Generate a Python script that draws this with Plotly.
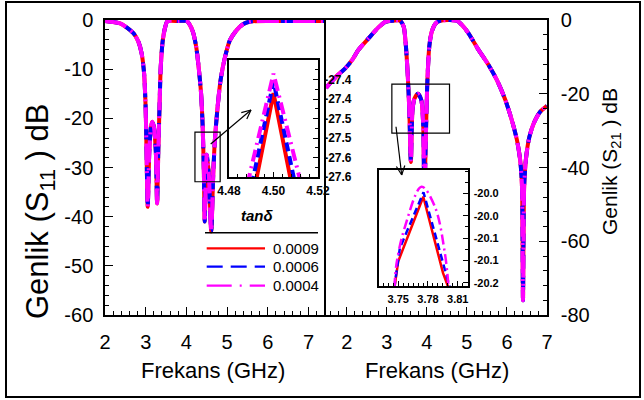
import plotly.graph_objects as go

# ---------------- data ----------------
tan_labels = ["0.0009", "0.0006", "0.0004"]
colors = ["#FF0000", "#0000FF", "#FF00FF"]

# S11 (left panel)
s11_f = [2.0, 2.37, 2.53, 2.70, 2.82, 2.90, 2.96, 3.00, 3.02, 3.05, 3.09, 3.13, 3.16, 3.20, 3.25,
         3.28, 3.31, 3.34, 3.37, 3.42, 3.48, 3.53, 3.8, 4.01, 4.07, 4.16, 4.24, 4.30, 4.36, 4.40,
         4.43, 4.45, 4.48, 4.50, 4.55, 4.61, 4.66, 4.70, 4.76, 4.84, 4.95, 5.07, 5.24, 5.40, 5.57,
         6.2, 7.0, 7.43]
s11_db = [-0.2, -0.7, -1.5, -2.7, -4.4, -6.8, -10.8, -18.3, -26.4, -38.0, -26.4, -21.7, -20.7, -21.7, -27.0,
          -37.3, -26.4, -17.6, -9.5, -4.1, -1.4, -0.3, -0.2, -0.2, -0.8, -2.4, -5.4, -9.5, -14.9, -21.7,
          -31.2, -41.0, -31.2, -27.4, -31.2, -43.0, -31.2, -24.4, -18.3, -12.2, -7.5, -4.1, -2.0, -0.8, -0.3,
          -0.2, -0.2, -0.2]

# S21 (right panel)
s21_f = [1.48, 1.71, 1.96, 2.13, 2.29, 2.54, 2.79, 2.96, 3.12, 3.33, 3.42, 3.47, 3.52, 3.56, 3.60,
         3.64, 3.69, 3.775, 3.86, 3.91, 3.935, 3.98, 4.01, 4.06, 4.12, 4.22, 4.33, 4.75, 4.88, 5.04,
         5.29, 5.54, 5.75, 5.96, 6.12, 6.25, 6.33, 6.375, 6.40, 6.43, 6.48, 6.56, 6.67, 6.83, 7.0]
s21_db = [-18.4, -15.6, -13.1, -10.9, -8.1, -5.0, -2.0, -0.5, -0.2, -0.2, -1.8, -6.3, -14.5, -24.4, -38.5,
          -24.4, -21.3, -20.0, -21.7, -29.0, -48.0, -29.0, -17.2, -7.2, -3.2, -0.9, -0.2, -0.2, -1.4, -3.6,
          -8.1, -12.2, -16.3, -21.7, -27.1, -32.6, -38.0, -45.0, -76.0, -45.0, -37.1, -31.7, -28.0, -24.9, -23.3]

# left inset (zoom of S11 near 4.50 GHz)
in1_f = [[4.4918, 4.500, 4.5082], [4.4902, 4.500, 4.5098], [4.4882, 4.500, 4.5125]]
in1_db = [[-27.62, -27.385, -27.62], [-27.62, -27.355, -27.62], [-27.62, -27.335, -27.62]]
in1_xticks = [4.48, 4.50, 4.52]
in1_yticks = [-27.35, -27.40, -27.45, -27.50, -27.55, -27.60]
in1_ytext = ["-27.4", "-27.4", "-27.5", "-27.5", "-27.6", "-27.6"]

# right inset (zoom of S21 near 3.78 GHz)
in2_f = [[3.7462, 3.750, 3.7753, 3.7952, 3.8008],
         [3.7460, 3.7517, 3.7755, 3.7938, 3.8022],
         [3.7462, 3.7484, 3.7568, 3.7736, 3.787, 3.797, 3.8008]]
in2_db = [[-20.17, -20.122, -20.006, -20.143, -20.17],
          [-20.17, -20.098, -19.998, -20.113, -20.17],
          [-20.17, -20.125, -20.06, -19.988, -20.024, -20.107, -20.17]]
in2_xticks = [3.75, 3.78, 3.81]
in2_yticks = [-20.00, -20.04, -20.08, -20.12, -20.16]
in2_ytext = ["-20.0", "-20.0", "-20.1", "-20.1", "-20.2"]

x_ticks = [2, 3, 4, 5, 6, 7]
y1_ticks = [0, -10, -20, -30, -40, -50, -60]
y2_ticks = [0, -20, -40, -60, -80]

# ---------------- figure ----------------
W, H = 644, 400
def px(x): return x / W
def py(y): return 1 - y / H

FONT = "Arial, Liberation Sans, sans-serif"
main_dash = [None, "14px,7px", "22px,6px,2px,6px"]
in1_dash = [None, "9px,5px", "12px,5px,2px,5px"]
in2_dash = [None, "7px,4px", "10px,4px,2px,4px"]

fig = go.Figure()
for i in range(3):
    fig.add_trace(go.Scatter(x=s11_f, y=s11_db, mode="lines", xaxis="x", yaxis="y",
                             line=dict(color=colors[i], width=4, dash=main_dash[i], shape="spline", smoothing=0.7),
                             showlegend=False, hoverinfo="skip"))
for i in range(3):
    fig.add_trace(go.Scatter(x=s21_f, y=s21_db, mode="lines", xaxis="x2", yaxis="y2",
                             line=dict(color=colors[i], width=4, dash=main_dash[i], shape="spline", smoothing=0.7),
                             showlegend=False, hoverinfo="skip"))
for i in range(3):
    fig.add_trace(go.Scatter(x=in1_f[i], y=in1_db[i], mode="lines", xaxis="x3", yaxis="y3",
                             line=dict(color=colors[i], width=4, dash=in1_dash[i]),
                             showlegend=False, hoverinfo="skip"))
for i in range(3):
    fig.add_trace(go.Scatter(x=in2_f[i], y=in2_db[i], mode="lines", xaxis="x4", yaxis="y4",
                             line=dict(color=colors[i], width=2.5, dash=in2_dash[i],
                                       shape="spline" if i == 2 else "linear"),
                             showlegend=False, hoverinfo="skip"))

ax_common = dict(showline=True, linecolor="black", linewidth=1.5, mirror=True, ticks="inside",
                 tickcolor="black", showgrid=False, zeroline=False, automargin=False)
tick20 = dict(family=FONT, size=20, color="black")
tickb = dict(family=FONT, size=12, color="black", weight="bold")

left_y = dict(ax_common)
left_y["mirror"] = False

fig.update_layout(
    template="none",
    width=W, height=H, autosize=False, margin=dict(l=0, r=0, t=0, b=0, pad=0, autoexpand=False),
    paper_bgcolor="white", plot_bgcolor="white", showlegend=False,
    xaxis=dict(domain=[px(105), px(326)], range=[2, 7.43], anchor="y", tickvals=x_ticks,
               ticktext=[str(v) for v in x_ticks], ticklen=8, tickwidth=1, tickfont=tick20,
               ticklabelstandoff=8,
               minor=dict(dtick=0.2, ticks="inside", ticklen=4, tickcolor="black"), **ax_common),
    yaxis=dict(domain=[py(315), py(20)], range=[-60, 0], anchor="x", tickvals=y1_ticks,
               ticktext=[str(v) for v in y1_ticks], ticklen=8, tickwidth=1, tickfont=tick20,
               ticklabelstandoff=6,
               minor=dict(dtick=2, ticks="inside", ticklen=4, tickcolor="black"), **left_y),
    xaxis2=dict(domain=[px(326), px(547)], range=[1.48, 7], anchor="y2", tickvals=x_ticks,
                ticktext=[str(v) for v in x_ticks], ticklen=8, tickwidth=1, tickfont=tick20,
                ticklabelstandoff=8,
                minor=dict(dtick=0.2, ticks="inside", ticklen=4, tickcolor="black"), **ax_common),
    yaxis2=dict(domain=[py(315), py(20)], range=[-80, 0], anchor="x2", side="right", tickvals=y2_ticks,
                ticktext=[str(v) for v in y2_ticks], ticklen=8, tickwidth=1, tickfont=tick20,
                ticklabelstandoff=8,
                minor=dict(dtick=4, ticks="inside", ticklen=4, tickcolor="black"), **ax_common),
    xaxis3=dict(domain=[px(229), px(318)], range=[4.48, 4.52], anchor="y3", tickvals=in1_xticks,
                ticktext=["%.2f" % v for v in in1_xticks], ticklen=5, tickwidth=1, tickfont=tickb,
                ticklabelstandoff=2,
                minor=dict(dtick=0.004, ticks="inside", ticklen=3, tickcolor="black"), **ax_common),
    yaxis3=dict(domain=[py(177), py(60)], range=[-27.60, -27.30], anchor="x3", side="right",
                tickvals=in1_yticks, ticktext=in1_ytext, ticklen=5, tickwidth=1, tickfont=tickb,
                ticklabelstandoff=2,
                minor=dict(dtick=0.025, ticks="inside", ticklen=3, tickcolor="black"), **ax_common),
    xaxis4=dict(domain=[px(379.3), px(467.7)], range=[3.731, 3.820], anchor="y4", tickvals=in2_xticks,
                ticktext=["%.2f" % v for v in in2_xticks], ticklen=5, tickwidth=1,
                tickfont=dict(family=FONT, size=11, color="black", weight="bold"),
                ticklabelstandoff=2,
                minor=dict(dtick=0.005, ticks="inside", ticklen=3, tickcolor="black"), **ax_common),
    yaxis4=dict(domain=[py(286), py(170)], range=[-20.166, -19.958], anchor="x4", side="right",
                tickvals=in2_yticks, ticktext=in2_ytext, ticklen=5, tickwidth=1,
                tickfont=dict(family=FONT, size=11, color="black", weight="bold"),
                ticklabelstandoff=2,
                minor=dict(dtick=0.02, ticks="inside", ticklen=3, tickcolor="black"), **ax_common),
)

shapes = []
# outer frame
shapes.append(dict(type="rect", xref="paper", yref="paper", x0=px(6), x1=px(640), y0=py(397), y1=py(2),
                   line=dict(color="black", width=2)))
# zoom indicator boxes
shapes.append(dict(type="rect", xref="x", yref="y", x0=4.21, x1=4.83, y0=-32.9, y1=-22.8,
                   line=dict(color="black", width=1.2)))
shapes.append(dict(type="rect", xref="x2", yref="y2", x0=3.125, x1=4.565, y0=-30.7, y1=-17.4,
                   line=dict(color="black", width=1.2)))
# legend separator
shapes.append(dict(type="line", xref="paper", yref="paper", x0=px(205), x1=px(318), y0=py(232.7), y1=py(232.7),
                   line=dict(color="black", width=1.5)))
leg_y = [248.3, 266.7, 285.7]
leg_dash = ["solid", "16px,8px", "25px,8px,2px,8px"]
for i in range(3):
    shapes.append(dict(type="line", xref="paper", yref="paper", x0=px(206.7), x1=px(265),
                       y0=py(leg_y[i]), y1=py(leg_y[i]),
                       line=dict(color=colors[i], width=2.2, dash=leg_dash[i])))


def arrow(tail, head, wing1, wing2):
    s = [dict(type="line", xref="paper", yref="paper", x0=px(tail[0]), y0=py(tail[1]),
              x1=px(head[0]), y1=py(head[1]), line=dict(color="black", width=1.2))]
    for w in (wing1, wing2):
        s.append(dict(type="line", xref="paper", yref="paper", x0=px(w[0]), y0=py(w[1]),
                      x1=px(head[0]), y1=py(head[1]), line=dict(color="black", width=1.2)))
    return s


shapes += arrow((210.7, 144), (251, 110), (241.3, 112.6), (246.8, 119.1))
shapes += arrow((396, 126.7), (401.7, 175), (404.8, 165.5), (396.4, 166.5))
fig.update_layout(shapes=shapes)

ann = []
for i in range(3):
    ann.append(dict(xref="paper", yref="paper", x=px(271), y=py(leg_y[i]), text=tan_labels[i],
                    showarrow=False, xanchor="left", yanchor="middle",
                    font=dict(family=FONT, size=15, color="black")))
ann.append(dict(xref="paper", yref="paper", x=px(257), y=py(215), text="<b><i>tanδ</i></b>",
                showarrow=False, xanchor="center", yanchor="middle",
                font=dict(family=FONT, size=15, color="black")))
# axis titles
ann.append(dict(xref="paper", yref="paper", x=px(213.5), y=py(370), text="Frekans (GHz)",
                showarrow=False, xanchor="center", yanchor="middle",
                font=dict(family=FONT, size=22, color="black")))
ann.append(dict(xref="paper", yref="paper", x=px(437), y=py(370), text="Frekans (GHz)",
                showarrow=False, xanchor="center", yanchor="middle",
                font=dict(family=FONT, size=22, color="black")))
ann.append(dict(xref="paper", yref="paper", x=px(40), y=py(212), text="Genlik (S<sub>11</sub> ) dB",
                showarrow=False, xanchor="center", yanchor="middle", textangle=-90,
                font=dict(family=FONT, size=31, color="black")))
ann.append(dict(xref="paper", yref="paper", x=px(611), y=py(162), text="Genlik (S<sub>21</sub> ) dB",
                showarrow=False, xanchor="center", yanchor="middle", textangle=-90,
                font=dict(family=FONT, size=21, color="black")))
fig.update_layout(annotations=ann)

fig.write_html("out.html")
